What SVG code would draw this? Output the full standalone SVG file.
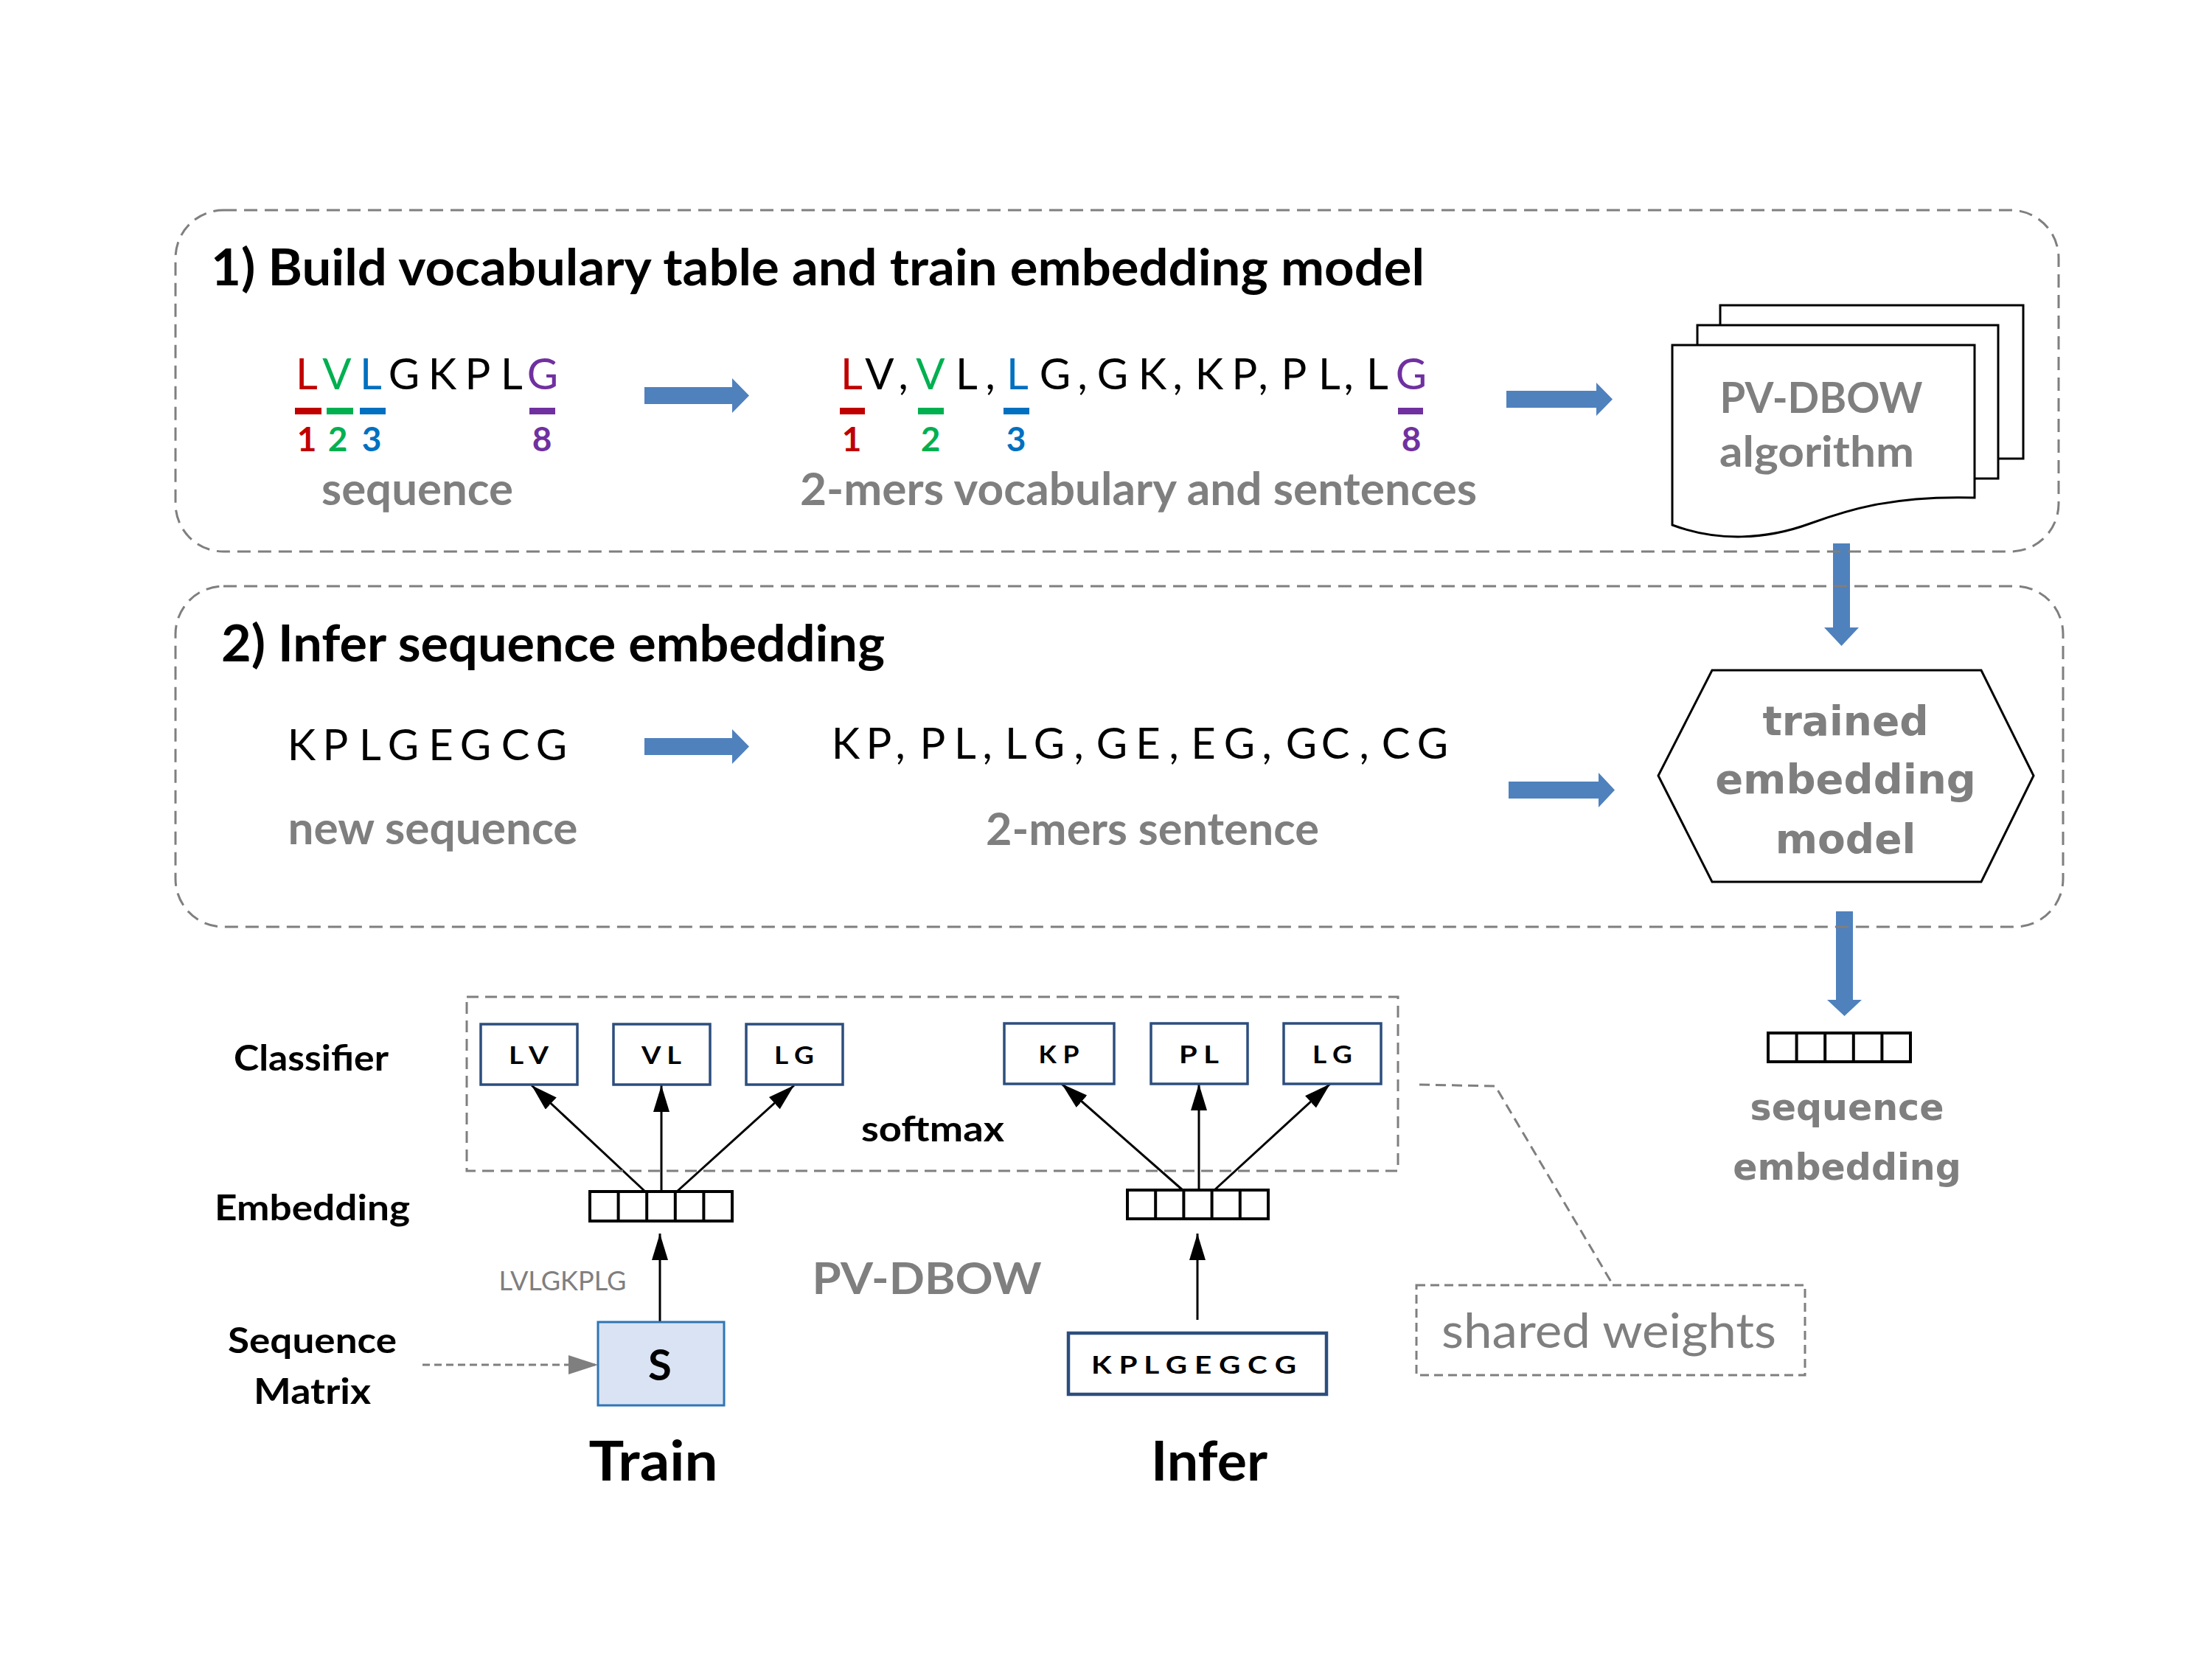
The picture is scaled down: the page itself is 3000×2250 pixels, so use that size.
<svg xmlns="http://www.w3.org/2000/svg" width="3000" height="2250" viewBox="0 0 3000 2250">
<defs>
<marker id="ah" markerUnits="userSpaceOnUse" markerWidth="38" markerHeight="24" refX="36" refY="11" orient="auto"><path d="M0,0 L36,11 L0,22 z" fill="#000"/></marker>
<marker id="ahg" markerUnits="userSpaceOnUse" markerWidth="42" markerHeight="28" refX="40" refY="13" orient="auto"><path d="M0,0 L40,13 L0,26 z" fill="#7f7f7f"/></marker>
</defs>
<style>
.cal{font-family:Lato,'Open Sans',sans-serif}
.b{font-weight:700}
.g{fill:#7f7f7f}
.ver{font-family:'DejaVu Sans',Verdana,sans-serif;font-weight:700;fill:#7f7f7f;text-anchor:middle}
.seq{font-family:Lato,'Open Sans',sans-serif;font-size:58px;text-anchor:middle;fill:#000}
.num{font-family:Lato,'Open Sans',sans-serif;font-size:46px;font-weight:700;text-anchor:middle}
.mid{text-anchor:middle}
.dash{fill:none;stroke:#7f7f7f;stroke-width:3;stroke-dasharray:18 10}
.blue{fill:#4f81bd}
.page{fill:#fff;stroke:#000;stroke-width:3}
.cbox{fill:#fff;stroke:#2c4e7e;stroke-width:3.5}
.vec{fill:#fff;stroke:#000;stroke-width:4}
.conn{stroke:#000;stroke-width:3;fill:none}
.lbl{font-family:Lato,'Open Sans',sans-serif;font-weight:700;font-size:32px;text-anchor:middle}
.red{fill:#c00000}.grn{fill:#00b050}.blu{fill:#0070c0}.pur{fill:#7030a0}
</style>
<rect width="3000" height="2250" fill="#fff"/>

<g id="connectors">
<polygon class="blue" points="874,525 993,525 993,513 1016,536.5 993,560 993,548 874,548"/>
<polygon class="blue" points="2043,530 2165,530 2165,519 2187,541.5 2165,564 2165,553 2043,553"/>
<polygon class="blue" points="874,1001 993,1001 993,989 1016,1012.5 993,1036 993,1024 874,1024"/>
<polygon class="blue" points="2046,1060 2168,1060 2168,1048 2190,1071.5 2168,1095 2168,1083 2046,1083"/>
<polygon class="blue" points="2486,737 2509,737 2509,851 2521,851 2497.5,876 2474,851 2486,851"/>
<polygon class="blue" points="2490,1236 2513,1236 2513,1356 2525,1356 2501.5,1378 2478,1356 2490,1356"/>
<line class="conn" x1="875" y1="1616" x2="721" y2="1472" marker-end="url(#ah)"/>
<line class="conn" x1="897" y1="1616" x2="897" y2="1472" marker-end="url(#ah)"/>
<line class="conn" x1="918" y1="1616" x2="1077" y2="1472" marker-end="url(#ah)"/>
<line class="conn" x1="1604" y1="1614" x2="1440" y2="1470" marker-end="url(#ah)"/>
<line class="conn" x1="1626" y1="1614" x2="1626" y2="1470" marker-end="url(#ah)"/>
<line class="conn" x1="1647" y1="1614" x2="1804" y2="1470" marker-end="url(#ah)"/>
<line class="conn" x1="895" y1="1792" x2="895" y2="1673" marker-end="url(#ah)"/>
<line class="conn" x1="1624" y1="1790" x2="1624" y2="1673" marker-end="url(#ah)"/>
<line x1="573" y1="1851" x2="811" y2="1851" stroke="#7f7f7f" stroke-width="3" stroke-dasharray="10 6" marker-end="url(#ahg)"/>
<polyline points="1925,1471 2028,1473 2186,1740" fill="none" stroke="#7f7f7f" stroke-width="3" stroke-dasharray="14 8"/>
</g>

<g id="stage1">
<rect class="dash" x="238" y="285" width="2554" height="463" rx="65" ry="65"/>
<text class="cal b" x="286" y="387" font-size="69" textLength="1646" lengthAdjust="spacingAndGlyphs">1) Build vocabulary table and train embedding model</text>
</g>

<g id="sequence1">
<text class="seq" y="528"><tspan x="416" class="red">L</tspan><tspan x="457" class="grn">V</tspan><tspan x="503" class="blu">L</tspan><tspan x="548">G</tspan><tspan x="600">K</tspan><tspan x="648">P</tspan><tspan x="694">L</tspan><tspan x="736" class="pur">G</tspan></text>
<rect class="red" x="400" y="553" width="36" height="9"/>
<rect class="grn" x="443" y="553" width="36" height="9"/>
<rect class="blu" x="488" y="553" width="35" height="9"/>
<rect class="pur" x="718" y="553" width="35" height="9"/>
<text class="num" y="612"><tspan x="416" class="red">1</tspan><tspan x="458" class="grn">2</tspan><tspan x="504" class="blu">3</tspan><tspan x="735" class="pur">8</tspan></text>
<text class="cal b g mid" x="566" y="685" font-size="62" textLength="260" lengthAdjust="spacingAndGlyphs">sequence</text>
</g>

<g id="kmers1">
<text class="seq" y="528"><tspan x="1155" class="red">L</tspan><tspan x="1193">V</tspan><tspan x="1225">,</tspan><tspan x="1262" class="grn">V</tspan><tspan x="1311">L</tspan><tspan x="1343">,</tspan><tspan x="1380" class="blu">L</tspan><tspan x="1431">G</tspan><tspan x="1468">,</tspan><tspan x="1509">G</tspan><tspan x="1563">K</tspan><tspan x="1597">,</tspan><tspan x="1640">K</tspan><tspan x="1688">P</tspan><tspan x="1713">,</tspan><tspan x="1755">P</tspan><tspan x="1803">L</tspan><tspan x="1829">,</tspan><tspan x="1868">L</tspan><tspan x="1914" class="pur">G</tspan></text>
<rect class="red" x="1139" y="553" width="34" height="9"/>
<rect class="grn" x="1245" y="553" width="35" height="9"/>
<rect class="blu" x="1361" y="553" width="35" height="9"/>
<rect class="pur" x="1896" y="553" width="34" height="9"/>
<text class="num" y="612"><tspan x="1155" class="red">1</tspan><tspan x="1262" class="grn">2</tspan><tspan x="1378" class="blu">3</tspan><tspan x="1914" class="pur">8</tspan></text>
<text class="cal b g mid" x="1544" y="685" font-size="62" textLength="918" lengthAdjust="spacingAndGlyphs">2-mers vocabulary and sentences</text>
</g>

<g id="algorithm">
<rect class="page" x="2333" y="414" width="411" height="208"/>
<rect class="page" x="2302" y="441" width="408" height="208"/>
<path class="page" d="M2268,468 H2678 V675 C2570,672 2510,690 2455,710 C2395,732 2330,735 2268,712 Z"/>
<text class="cal b g mid" x="2470" y="560" font-size="57" textLength="275" lengthAdjust="spacingAndGlyphs">PV-DBOW</text>
<text class="cal b g mid" x="2464" y="633" font-size="57" textLength="264" lengthAdjust="spacingAndGlyphs">algorithm</text>
</g>

<g id="stage2">
<rect class="dash" x="238" y="795" width="2560" height="462" rx="65" ry="65"/>
<text class="cal b" x="300" y="897" font-size="69" textLength="900" lengthAdjust="spacingAndGlyphs">2) Infer sequence embedding</text>
</g>

<g id="sequence2">
<text class="seq" y="1031"><tspan x="409">K</tspan><tspan x="455">P</tspan><tspan x="502">L</tspan><tspan x="547">G</tspan><tspan x="598">E</tspan><tspan x="645">G</tspan><tspan x="699">C</tspan><tspan x="748">G</tspan></text>
<text class="cal b g mid" x="587" y="1145" font-size="62" textLength="393" lengthAdjust="spacingAndGlyphs">new sequence</text>
</g>

<g id="kmers2">
<text class="seq" y="1029"><tspan x="1147">K</tspan><tspan x="1192">P</tspan><tspan x="1221">,</tspan><tspan x="1265">P</tspan><tspan x="1309">L</tspan><tspan x="1339">,</tspan><tspan x="1378">L</tspan><tspan x="1423">G</tspan><tspan x="1463">,</tspan><tspan x="1508">G</tspan><tspan x="1557">E</tspan><tspan x="1592">,</tspan><tspan x="1632">E</tspan><tspan x="1681">G</tspan><tspan x="1718">,</tspan><tspan x="1765">G</tspan><tspan x="1811">C</tspan><tspan x="1850">,</tspan><tspan x="1893">C</tspan><tspan x="1943">G</tspan></text>
<text class="cal b g mid" x="1563" y="1146" font-size="62" textLength="452" lengthAdjust="spacingAndGlyphs">2-mers sentence</text>
</g>

<g id="trained-model">
<polygon points="2322,909 2687,909 2758,1052 2687,1196 2322,1196 2249,1052" fill="#fff" stroke="#000" stroke-width="3"/>
<text class="ver" x="2503" y="997" font-size="55">trained</text>
<text class="ver" x="2503" y="1076" font-size="56">embedding</text>
<text class="ver" x="2503" y="1157" font-size="55">model</text>
</g>

<g id="sequence-embedding">
<rect class="vec" x="2398" y="1401" width="193" height="39"/>
<path d="M2436.6,1401 V1440 M2475.2,1401 V1440 M2513.8,1401 V1440 M2552.4,1401 V1440" stroke="#000" stroke-width="4"/>
<text class="ver" x="2505" y="1519" font-size="49">sequence</text>
<text class="ver" x="2505" y="1600" font-size="49">embedding</text>
</g>

<g id="layer-labels">
<text class="cal b" x="317" y="1452" font-size="48" textLength="210" lengthAdjust="spacingAndGlyphs">Classifier</text>
<text class="cal b" x="291" y="1655" font-size="48" textLength="265" lengthAdjust="spacingAndGlyphs">Embedding</text>
<text class="cal b" x="309" y="1835" font-size="48" textLength="229" lengthAdjust="spacingAndGlyphs">Sequence</text>
<text class="cal b" x="344" y="1904" font-size="48" textLength="159" lengthAdjust="spacingAndGlyphs">Matrix</text>
</g>

<g id="softmax-group">
<rect x="633" y="1352" width="1263" height="236" fill="none" stroke="#7f7f7f" stroke-width="3" stroke-dasharray="16 9"/>
<text class="cal b" x="1168" y="1548" font-size="48" textLength="194" lengthAdjust="spacingAndGlyphs">softmax</text>
</g>

<g id="train-classifier">
<rect class="cbox" x="652" y="1389" width="131" height="82"/>
<text class="lbl" x="717" y="1443" textLength="54" lengthAdjust="spacingAndGlyphs">L V</text>
<rect class="cbox" x="832" y="1389" width="131" height="82"/>
<text class="lbl" x="897" y="1443" textLength="54" lengthAdjust="spacingAndGlyphs">V L</text>
<rect class="cbox" x="1012" y="1389" width="131" height="82"/>
<text class="lbl" x="1077" y="1443" textLength="54" lengthAdjust="spacingAndGlyphs">L G</text>
</g>

<g id="infer-classifier">
<rect class="cbox" x="1362" y="1388" width="149" height="82"/>
<text class="lbl" x="1436" y="1442" textLength="55" lengthAdjust="spacingAndGlyphs">K P</text>
<rect class="cbox" x="1561" y="1388" width="131" height="82"/>
<text class="lbl" x="1626" y="1442" textLength="54" lengthAdjust="spacingAndGlyphs">P L</text>
<rect class="cbox" x="1741" y="1388" width="132" height="82"/>
<text class="lbl" x="1807" y="1442" textLength="54" lengthAdjust="spacingAndGlyphs">L G</text>
</g>

<g id="train-embedding">
<rect class="vec" x="800" y="1616" width="193" height="40"/>
<path d="M838.6,1616 V1656 M877.2,1616 V1656 M915.8,1616 V1656 M954.4,1616 V1656" stroke="#000" stroke-width="4"/>
</g>

<g id="infer-embedding">
<rect class="vec" x="1529" y="1614" width="191" height="39"/>
<path d="M1567.2,1614 V1653 M1605.4,1614 V1653 M1643.6,1614 V1653 M1681.8,1614 V1653" stroke="#000" stroke-width="4"/>
</g>

<g id="train-input">
<text class="cal g mid" x="763" y="1750" font-size="36" textLength="173" lengthAdjust="spacingAndGlyphs">LVLGKPLG</text>
<rect x="811" y="1793" width="171" height="113" fill="#dae3f3" stroke="#2e75b6" stroke-width="3"/>
<text class="cal b mid" x="895" y="1872" font-size="58">S</text>
<text class="cal b mid" x="886" y="2008" font-size="74" textLength="175" lengthAdjust="spacingAndGlyphs">Train</text>
</g>

<g id="pvdbow-label">
<text class="cal b g mid" x="1257" y="1755" font-size="60" textLength="311" lengthAdjust="spacingAndGlyphs">PV-DBOW</text>
</g>

<g id="infer-input">
<rect x="1449" y="1808" width="350" height="83" fill="#fff" stroke="#2c4e7e" stroke-width="4.5"/>
<text class="lbl" x="1619" y="1863" font-size="36" textLength="278" lengthAdjust="spacingAndGlyphs">K P L G E G C G</text>
<text class="cal b mid" x="1640" y="2008" font-size="74" textLength="158" lengthAdjust="spacingAndGlyphs">Infer</text>
</g>

<g id="shared-weights">
<rect x="1921" y="1743" width="527" height="122" fill="none" stroke="#7f7f7f" stroke-width="3" stroke-dasharray="12 7"/>
<text class="cal g mid" x="2182" y="1828" font-size="66" textLength="454" lengthAdjust="spacingAndGlyphs">shared weights</text>
</g>
</svg>
